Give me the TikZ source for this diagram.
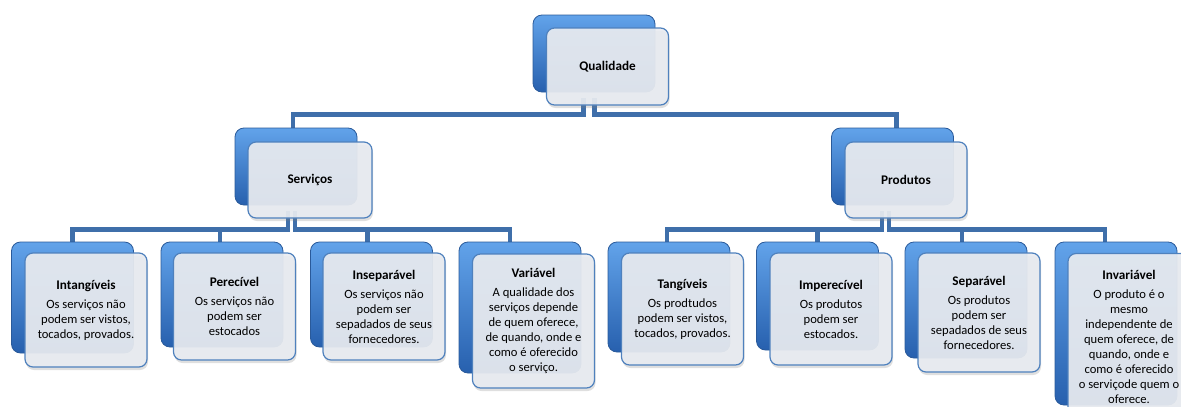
\documentclass[tikz,border=0pt]{standalone}
\usepackage{fontspec}
\setmainfont{Carlito}
\usetikzlibrary{calc,shadows}
\definecolor{connblue}{HTML}{3F6FAA}
\definecolor{bbtop}{HTML}{62A3EA}
\definecolor{bbbot}{HTML}{2760AE}
\definecolor{bbedge}{HTML}{2A5A9A}
\definecolor{frontfill}{HTML}{E9ECF1}
\definecolor{frontedge}{HTML}{4F81BD}
\pgfdeclarelayer{bg}
\pgfsetlayers{bg,main}
\newcommand\ttl[1]{{\fontsize{13.2}{15}\selectfont\textbf{#1}}}
\begin{document}
\begin{tikzpicture}[x=1pt,y=-1pt,
  backbox/.style={rounded corners=9pt, top color=bbtop, bottom color=bbbot, draw=bbedge, line width=0.8pt, minimum width=122pt, inner sep=0pt},
  frontbox/.style={rounded corners=8pt, fill=frontfill, fill opacity=0.92, text opacity=1, draw=frontedge, line width=1.2pt, minimum width=122pt, inner sep=2pt, align=center, font=\fontsize{12.6}{15}\selectfont, drop shadow={opacity=0.25, shadow xshift=1pt, shadow yshift=-3pt}},
  conn/.style={draw=connblue, line width=4.3pt}]
\useasboundingbox (0,0) rectangle (1181,407);
\clip (0,0) rectangle (1181,407);

% top
\node[backbox, minimum height=77pt] (qb) at (594,53.5) {};
\node[frontbox, minimum height=77pt] (q) at (607.5,66.5) {\ttl{Qualidade}};
% level 2
\node[backbox, minimum height=77pt] (sb) at (296,166.5) {};
\node[frontbox, minimum height=76pt, minimum width=124pt] (s) at (310,180) {\ttl{Serviços}};
\node[backbox, minimum height=77pt] (pb) at (892.5,166.5) {};
\node[frontbox, minimum height=76pt] (p) at (906,180) {\ttl{Produtos}};

% leaves
\node[backbox, minimum height=111pt] (l1b) at (72.5,297.5) {};
\node[frontbox, minimum height=114pt] (l1) at (86,310) {\ttl{Intangíveis}\\[4pt] Os serviços não\\ podem ser vistos,\\ tocados, provados.};
\node[backbox, minimum height=105pt] (l2b) at (222,294.5) {};
\node[frontbox, minimum height=107pt] (l2) at (234.5,306.5) {\ttl{Perecível}\\[4pt] Os serviços não\\ podem ser\\ estocados};
\node[backbox, minimum height=105pt] (l3b) at (371.5,294.5) {};
\node[frontbox, minimum height=107pt] (l3) at (384,306.5) {\ttl{Inseparável}\\[4pt] Os serviços não\\ podem ser\\ sepadados de seus\\ fornecedores.};
\node[backbox, minimum height=131pt] (l4b) at (520,307.5) {};
\node[frontbox, minimum height=134pt] (l4) at (533.5,321) {\ttl{Variável}\\[4pt] A qualidade dos\\ serviços depende\\ de quem oferece,\\ de quando, onde e\\ como é oferecido\\ o serviço.};

\node[backbox, minimum height=110pt] (r1b) at (669,297) {};
\node[frontbox, minimum height=112pt] (r1) at (682.5,309) {\ttl{Tangíveis}\\[4pt] Os prodtudos\\ podem ser vistos,\\ tocados, provados.};
\node[backbox, minimum height=108pt] (r2b) at (817.5,296) {};
\node[frontbox, minimum height=112pt] (r2) at (831,309) {\ttl{Imperecível}\\[4pt] Os produtos\\ podem ser\\ estocados.};
\node[backbox, minimum height=116pt] (r3b) at (966,300) {};
\node[frontbox, minimum height=119pt] (r3) at (979,312.5) {\ttl{Separável}\\[4pt] Os produtos\\ podem ser\\ sepadados de seus\\ fornecedores.};
\node[backbox, minimum height=163pt] (r4b) at (1116,323.5) {};
\node[frontbox, minimum height=167pt] (r4) at (1129,337) {\ttl{Invariável}\\[4pt] O produto é o\\ mesmo\\ independente de\\ quem oferece, de\\ quando, onde e\\ como é oferecido\\ o serviçode quem o\\ oferece.};

\begin{pgfonlayer}{bg}
\draw[conn] ($(q.south)+(-24,-8)$) |- ($(sb.north)+(-3,-13)$) -- ($(sb.north)+(-3,0)$);
\draw[conn] ($(q.south)+(-13,-8)$) |- ($(pb.north)+(4,-13)$) -- ($(pb.north)+(4,0)$);
\draw[conn] ($(s.south)+(-22,-8)$) |- ($(l1b.north)+(0,-12)$) -- (l1b.north);
\draw[conn] ($(s.south)+(-22,-8)$) |- ($(l2b.north)+(-2,-12)$) -- ($(l2b.north)+(-2,0)$);
\draw[conn] ($(s.south)+(-15,-8)$) |- ($(l3b.north)+(-4,-12)$) -- ($(l3b.north)+(-4,0)$);
\draw[conn] ($(s.south)+(-15,-8)$) |- ($(l4b.north)+(-10,-12)$) -- ($(l4b.north)+(-10,0)$);
\draw[conn] ($(p.south)+(-24,-8)$) |- ($(r1b.north)+(-2,-12)$) -- ($(r1b.north)+(-2,0)$);
\draw[conn] ($(p.south)+(-24,-8)$) |- ($(r2b.north)+(0,-12)$) -- (r2b.north);
\draw[conn] ($(p.south)+(-17,-8)$) |- ($(r3b.north)+(-4,-12)$) -- ($(r3b.north)+(-4,0)$);
\draw[conn] ($(p.south)+(-17,-8)$) |- ($(r4b.north)+(-11,-12)$) -- ($(r4b.north)+(-11,0)$);
\end{pgfonlayer}
\end{tikzpicture}
\end{document}
